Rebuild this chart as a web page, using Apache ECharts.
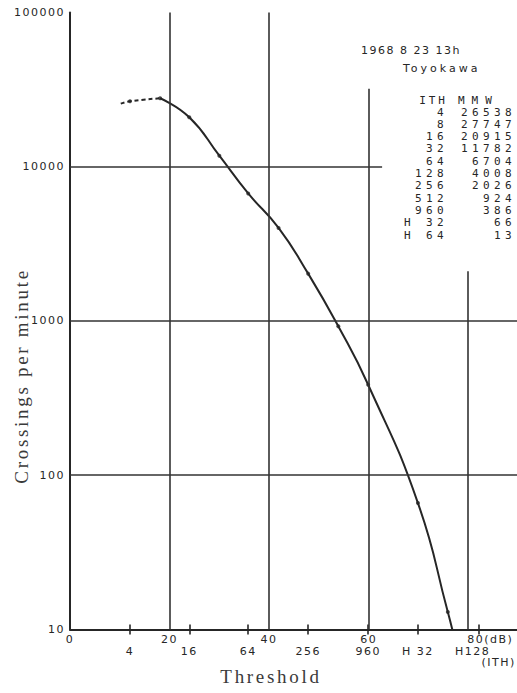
<!DOCTYPE html>
<html><head><meta charset="utf-8">
<script src="https://cdn.jsdelivr.net/npm/echarts@6/dist/echarts.min.js"></script>
<style>html,body{margin:0;padding:0;background:#fff}#main{width:517px;height:693px}</style>
</head><body><div id="main"></div>
<script>
// ---- data ----
const ithLabels = ['4','8','16','32','64','128','256','512','960','H 32','H 64'];
const thresholdDb = [12.05,18.1,23.96,30.0,35.8,41.9,47.85,53.9,59.9,69.9,75.9];
const crossings = [26538,27747,20915,11782,6704,4008,2026,924,386,66,13];
// hand-drawn extensions of the curve
const dashStart = [10.2, 25600];
const curveEnd = [76.8, 10];
// axis ticks
const dbTicks = [0,20,40,60,80];
const ithTickLabels = ['4','16','64','256','960','H 32','H128'];
const ithTickDb = [12.05,23.96,35.8,47.85,59.9,69.9,82.1];
// partial grid lines
const vGridDb = [20,40,60,80];
const vGridTop = [100000,100000,32000,2100];
const hGridCounts = [10000,1000,100];
const hGridEnd = [62.7,90,90];
const titleLines = ['1968 8 23 13h','Toyokawa'];
const tableHeader = ['ITH','MMW'];

const INK = '#262626';
const SANS = 'DejaVu Sans';
const MONO = 'DejaVu Sans Mono';
const SERIF = 'Liberation Serif';

const points = thresholdDb.map((x,i)=>[x, crossings[i]]);
const gridMarks = vGridDb.map((x,i)=>[{coord:[x,10]},{coord:[x,vGridTop[i]]}])
  .concat(hGridCounts.map((y,i)=>[{coord:[0,y]},{coord:[hGridEnd[i],y]}]));

const graphic = [];
graphic.push({type:'text', x:361, y:50, style:{text:titleLines[0], font:`11px '${SANS}'`, fill:INK, textAlign:'left', textVerticalAlign:'middle'}});
graphic.push({type:'text', x:403, y:68, style:{text:titleLines[1], font:`11px '${SANS}'`, fill:INK, textAlign:'left', textVerticalAlign:'middle'}});
graphic.push({type:'text', x:448, y:100, style:{text:tableHeader[0], font:`11px '${MONO}'`, fill:INK, textAlign:'right', textVerticalAlign:'middle'}});
graphic.push({type:'text', x:458, y:100, style:{text:tableHeader[1], font:`11px '${MONO}'`, fill:INK, textAlign:'left', textVerticalAlign:'middle'}});
ithLabels.forEach((lab,i)=>{
  const y = 112 + i*12.3;
  graphic.push({type:'text', x:448, y:y, style:{text:lab, font:`11px '${MONO}'`, fill:INK, textAlign:'right', textVerticalAlign:'middle'}});
  graphic.push({type:'text', x:516, y:y, style:{text:String(crossings[i]), font:`11px '${MONO}'`, fill:INK, textAlign:'right', textVerticalAlign:'middle'}});
});

const chart = echarts.init(document.getElementById('main'), null, {renderer:'svg'});
const labelStyle = {fontFamily:SANS, fontSize:11, lineHeight:11, color:INK};
chart.setOption({
  animation:false,
  backgroundColor:'#fff',
  grid:{left:70, top:12.4, right:-1, bottom:63.5, containLabel:false, outerBoundsMode:'none'},
  xAxis:[
    {type:'value', min:0, max:90, position:'bottom',
     axisLine:{show:true, onZero:false, lineStyle:{color:INK, width:2}},
     axisTick:{show:false}, splitLine:{show:false},
     axisLabel:Object.assign({customValues:dbTicks, margin:4,
       formatter:v=> v===80 ? '{u|80(dB)}' : String(v),
       rich:{u:Object.assign({padding:[0,0,0,44]}, labelStyle)}}, labelStyle),
     name:'Threshold', nameLocation:'middle', nameGap:37, nameMoveOverlap:false,
     nameTextStyle:{fontFamily:SERIF, fontSize:19, color:'#3a3a3a', padding:[0,46,0,0]}},
    {type:'value', min:0, max:90, position:'bottom',
     axisLine:{show:false, onZero:false},
     axisTick:{show:true, customValues:ithTickDb, length:5, lineStyle:{color:INK, width:1.6}},
     splitLine:{show:false},
     axisLabel:Object.assign({customValues:ithTickDb, margin:16.5,
       formatter:v=>{const i=ithTickDb.findIndex(t=>Math.abs(t-v)<1e-6); const s=ithTickLabels[i]; return s==='H128' ? '{a|H128}\n{b|(ITH)}' : s;},
       rich:{a:Object.assign({padding:[0,12,0,0]}, labelStyle), b:Object.assign({padding:[0,0,0,40]}, labelStyle)}}, labelStyle)},
    {type:'value', min:0, max:90, position:'bottom',
     axisLine:{show:false, onZero:false},
     axisTick:{show:true, inside:true, customValues:ithTickDb, length:5, lineStyle:{color:INK, width:1.6}},
     axisLabel:{show:false}, splitLine:{show:false}}
  ],
  yAxis:{type:'log', logBase:10, min:10, max:100000,
    axisLine:{show:true, lineStyle:{color:INK, width:2}},
    axisTick:{show:false}, splitLine:{show:false},
    axisLabel:Object.assign({margin:5, formatter:v=>String(Math.round(v))}, labelStyle),
    name:'Crossings per minute', nameLocation:'middle', nameGap:39, nameRotate:90, nameMoveOverlap:false,
    nameTextStyle:{fontFamily:SERIF, fontSize:19, color:'#3a3a3a', padding:[0,110,0,0]}},
  series:[
    {type:'line', data:[dashStart, points[0], points[1]], smooth:0.5, showSymbol:false,
     lineStyle:{color:INK, width:2, type:[4,3]}, silent:true, z:3},
    {type:'line', data:points.slice(1).concat([curveEnd]), smooth:0.5, showSymbol:false,
     lineStyle:{color:INK, width:2}, silent:true, z:3},
    {type:'scatter', data:points, symbol:'circle', symbolSize:4, itemStyle:{color:INK}, silent:true, z:4,
     markLine:{silent:true, symbol:['none','none'], label:{show:false},
       lineStyle:{color:'#333', width:1.6, type:'solid'}, emphasis:{disabled:true}, data:gridMarks}}
  ],
  graphic:graphic
});

function applySpacing(){
  document.querySelectorAll('#main svg text').forEach(t=>{
    const s = t.textContent.trim();
    const ff = getComputedStyle(t).fontFamily || '';
    let sp = 1.5;
    if (ff.indexOf('Mono')>=0) sp = (s==='MMW') ? 7 : (s==='ITH' ? 3 : 4.4);
    else if (ff.indexOf('Serif')>=0) sp = 2.7;
    else if (s==='Toyokawa') sp = 3;
    t.setAttribute('letter-spacing', sp+'px');
  });
}
applySpacing();
chart.on('finished', applySpacing);
setTimeout(applySpacing, 0);
</script></body></html>
